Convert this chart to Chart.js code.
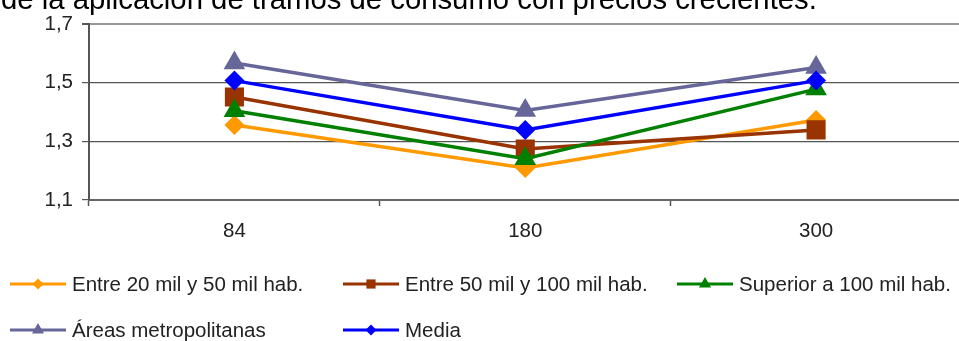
<!DOCTYPE html>
<html lang="es">
<head>
<meta charset="utf-8">
<title>Tramos de consumo</title>
<script src="https://cdn.jsdelivr.net/npm/chart.js@4/dist/chart.umd.min.js"></script>
<style>
  html, body { margin: 0; padding: 0; background: #fff; overflow: hidden; }
  #wrap { position: relative; width: 975px; height: 341px; }
</style>
</head>
<body>
<div id="wrap"><canvas id="c"></canvas></div>
<script>
// Consumo (m3) en el eje de categorías
const categories = ['84', '180', '300'];
const yTicks = [1.1, 1.3, 1.5, 1.7];

// Valores por tamaño de municipio
const entre20y50 = [1.356, 1.209, 1.373];
const entre50y100 = [1.451, 1.274, 1.339];
const superior100 = [1.404, 1.241, 1.478];
const areasMetro = [1.567, 1.405, 1.552];
const media = [1.507, 1.339, 1.507];

const titleText = 'de la aplicación de tramos de consumo con precios crecientes.';
const FONT = "'Liberation Sans', Arial, sans-serif";
const TEXT_SIZE = 20.5;

const series = [
  { label: 'Entre 20 mil y 50 mil hab.', data: entre20y50, color: '#FF9900', style: 'rectRot', r: 10, lr: 5.5, order: 5 },
  { label: 'Entre 50 mil y 100 mil hab.', data: entre50y100, color: '#993300', style: 'rect', r: 13.5, lr: 6.5, order: 4 },
  { label: 'Superior a 100 mil hab.', data: superior100, color: '#008000', style: 'triangle', r: 12.5, lr: 7, order: 3 },
  { label: 'Áreas metropolitanas', data: areasMetro, color: '#666699', style: 'triangle', r: 12.5, lr: 7, order: 2 },
  { label: 'Media', data: media, color: '#0000FF', style: 'rectRot', r: 10, lr: 5.5, order: 1 }
];

// Posiciones de la leyenda en rejilla (columna, fila)
const legendCols = [10, 343, 677];
const legendRows = [284, 330];
const legendSlots = [[0, 0], [1, 0], [2, 0], [0, 1], [1, 1]];

const gridLegend = {
  id: 'gridLegend',
  afterDraw(chart) {
    const ctx = chart.ctx;
    ctx.save();
    // título (parcialmente fuera del lienzo)
    ctx.font = '29.3px ' + FONT;
    ctx.fillStyle = '#000';
    ctx.textBaseline = 'alphabetic';
    ctx.textAlign = 'left';
    ctx.fillText(titleText, 1, 9);

    ctx.font = TEXT_SIZE + 'px ' + FONT;
    ctx.textBaseline = 'middle';
    chart.data.datasets.forEach((ds, i) => {
      const [c, r] = legendSlots[i];
      const x = legendCols[c], y = legendRows[r];
      ctx.strokeStyle = ds.borderColor;
      ctx.lineWidth = 3;
      ctx.beginPath();
      ctx.moveTo(x, y);
      ctx.lineTo(x + 56, y);
      ctx.stroke();
      ctx.fillStyle = ds.borderColor;
      Chart.helpers.drawPoint(ctx, { pointStyle: ds.pointStyle, radius: series[i].lr, rotation: 0, borderWidth: 0 }, x + 28, y);
      ctx.fillStyle = '#222';
      ctx.fillText(ds.label, x + 62, y + 1);
    });
    ctx.restore();
  }
};

new Chart(document.getElementById('c'), {
  type: 'line',
  data: {
    labels: categories,
    datasets: series.map(s => ({
      label: s.label,
      data: s.data,
      borderColor: s.color,
      backgroundColor: s.color,
      borderWidth: 3.5,
      pointStyle: s.style,
      pointRadius: s.r,
      pointHoverRadius: s.r,
      pointBorderWidth: 0,
      tension: 0,
      order: s.order
    }))
  },
  options: {
    responsive: true,
    maintainAspectRatio: false,
    animation: false,
    layout: { padding: { top: 24, right: 5, bottom: 0, left: 0 } },
    plugins: { legend: { display: false }, title: { display: false }, tooltip: { enabled: false } },
    scales: {
      x: {
        offset: true,
        grid: { offset: true, drawOnChartArea: false, drawTicks: true, tickLength: 6, tickColor: '#555', tickWidth: 1.5 },
        border: { color: '#666', width: 2 },
        ticks: { color: '#222', font: { family: FONT, size: TEXT_SIZE }, padding: 13, maxRotation: 0 },
        afterFit: s => { s.height = 141; }
      },
      y: {
        min: 1.1,
        max: 1.7,
        afterBuildTicks: s => { s.ticks = yTicks.map(v => ({ value: v })); },
        ticks: {
          color: '#222',
          font: { family: FONT, size: TEXT_SIZE },
          padding: 9,
          callback: v => Number(v).toFixed(1).replace('.', ',')
        },
        grid: {
          color: ctx => (ctx.tick && Math.abs(ctx.tick.value - 1.7) < 1e-6) ? '#999' : '#555',
          lineWidth: ctx => (ctx.tick && Math.abs(ctx.tick.value - 1.7) < 1e-6) ? 2 : 1.2,
          tickColor: '#555',
          tickLength: 7
        },
        border: { color: '#555', width: 2 },
        afterFit: s => { s.width = 89; }
      }
    }
  },
  plugins: [gridLegend]
});
</script>
</body>
</html>
